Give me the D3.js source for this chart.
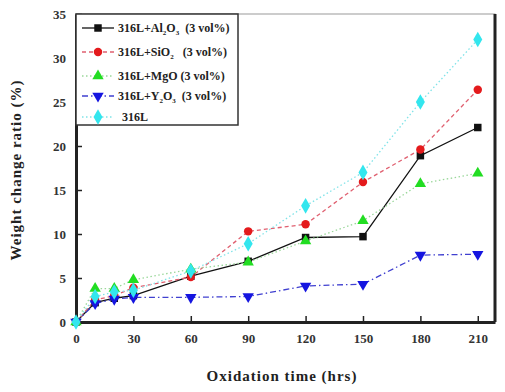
<!DOCTYPE html>
<html>
<head>
<meta charset="utf-8">
<script src="https://cdn.jsdelivr.net/npm/d3@7"></script>
<style>
body { margin: 0; background: #fff; }
svg text { font-family: "Liberation Serif", "Times New Roman", serif; font-weight: bold; }
</style>
</head>
<body>
<div class="canvas"></div>
<script>
// Data
const hours = [0, 10, 20, 30, 60, 90, 120, 150, 180, 210];
const al2o3 = [0, 2.2, 2.7, 3.0, 5.2, 6.9, 9.6, 9.7, 18.9, 22.1];
const sio2 = [0, 2.5, 3.0, 3.9, 5.1, 10.3, 11.1, 15.9, 19.6, 26.4];
const mgo = [0, 3.8, 3.8, 4.8, 6.0, 6.8, 9.2, 11.5, 15.7, 16.9];
const y2o3 = [0, 2.1, 2.6, 2.8, 2.8, 2.9, 4.1, 4.3, 7.6, 7.7];
const plain = [0, 2.9, 3.4, 3.6, 5.8, 8.9, 13.2, 17.0, 25.0, 32.1];
const xTicks = [0, 30, 60, 90, 120, 150, 180, 210];
const yTicks = [0, 5, 10, 15, 20, 25, 30, 35];

const series = [
    {name: ['316L+Al', '2', 'O', '3', '  (3 vol%)'], values: al2o3, color: '#111', dash: null, symbol: d3.symbolSquare, rot: 0},
    {name: ['316L+SiO', '2', '', '', '   (3 vol%)'], values: sio2, color: '#e41a1c', dash: '4,3', symbol: d3.symbolCircle, rot: 0, lineColor: '#e06070'},
    {name: ['316L+MgO', '', '', '', ' (3 vol%)'], values: mgo, color: '#22dd22', dash: '1.5,2.5', symbol: d3.symbolTriangle, rot: 0, lineColor: '#9ad79a'},
    {name: ['316L+Y', '2', 'O', '3', '  (3 vol%)'], values: y2o3, color: '#1515e0', dash: '6,3,1.5,3', symbol: d3.symbolTriangle, rot: 180, lineColor: '#4040d0'},
    {name: ['316L', '', '', '', ''], values: plain, color: '#33e6ee', dash: '1.5,2.5', symbol: d3.symbolDiamond, rot: 0, lineColor: '#7fe3e8'}
];

const width = 505, height = 392;
const margin = {top: 14, right: 10, bottom: 70, left: 76};
const graphWidth = width - margin.left - margin.right;
const graphHeight = height - margin.top - margin.bottom;

const svg = d3.select('.canvas')
    .append('svg')
        .attr('width', width)
        .attr('height', height);

const graph = svg.append('g')
    .attr('transform', `translate(${margin.left}, ${margin.top})`);

const x = d3.scaleLinear().domain([0, 219]).range([0, graphWidth]);
const y = d3.scaleLinear().domain([0, 35]).range([graphHeight, 0]);

// Frame
graph.append('rect')
    .attr('width', graphWidth)
    .attr('height', graphHeight)
    .attr('fill', 'none')
    .attr('stroke', '#999')
    .attr('stroke-width', 1);
graph.append('line')
    .attr('x1', graphWidth).attr('x2', graphWidth)
    .attr('y1', 0).attr('y2', graphHeight)
    .attr('stroke', '#222').attr('stroke-width', 3);

// Axes with inward ticks
const xAxis = graph.append('g')
    .attr('transform', `translate(0, ${graphHeight})`)
    .call(d3.axisBottom(x).tickValues(xTicks).tickSizeInner(-6).tickSizeOuter(0).tickPadding(12));
const yAxis = graph.append('g')
    .call(d3.axisLeft(y).tickValues(yTicks).tickSizeInner(-6).tickSizeOuter(0).tickPadding(10));

[xAxis, yAxis].forEach(a => {
    a.select('.domain').attr('stroke', '#222').attr('stroke-width', 3);
    a.selectAll('.tick line').attr('stroke', '#222').attr('stroke-width', 1.5);
    a.selectAll('.tick text').attr('font-size', 13).attr('fill', '#333');
});

// Lines and markers
const line = d3.line()
    .x((d, i) => x(hours[i]))
    .y(d => y(d));

series.forEach(s => {
    graph.append('path')
        .datum(s.values)
        .attr('d', line)
        .attr('fill', 'none')
        .attr('stroke', s.lineColor || s.color)
        .attr('stroke-width', 1.3)
        .attr('stroke-dasharray', s.dash);
});

series.forEach(s => {
    graph.selectAll(null)
        .data(s.values)
        .enter()
        .append('path')
            .attr('d', d3.symbol().type(s.symbol).size(s.symbol === d3.symbolDiamond ? 70 : 56))
            .attr('transform', (d, i) => `translate(${x(hours[i])}, ${y(d)}) rotate(${s.rot})`)
            .attr('fill', s.color);
});

// Legend
const legend = graph.append('g');
legend.append('rect')
    .attr('x', 0).attr('y', 0)
    .attr('width', 162).attr('height', 111)
    .attr('fill', '#fff')
    .attr('stroke', '#333')
    .attr('stroke-width', 1.5);

const rowY = [14, 38, 62, 82, 103];
series.forEach((s, i) => {
    const row = legend.append('g').attr('transform', `translate(0, ${rowY[i]})`);
    row.append('line')
        .attr('x1', 6).attr('x2', 38)
        .attr('stroke', s.lineColor || s.color)
        .attr('stroke-width', 1.3)
        .attr('stroke-dasharray', s.dash);
    row.append('path')
        .attr('d', d3.symbol().type(s.symbol).size(s.symbol === d3.symbolDiamond ? 70 : 56))
        .attr('transform', `translate(22, 0) rotate(${s.rot})`)
        .attr('fill', s.color);
    const t = row.append('text')
        .attr('x', i === 4 ? 46 : 42)
        .attr('y', 4)
        .attr('font-size', 12)
        .attr('fill', '#222')
        .attr('xml:space', 'preserve');
    t.append('tspan').text(s.name[0]);
    if (s.name[1]) t.append('tspan').attr('dy', 3).attr('font-size', 7).text(s.name[1]);
    if (s.name[2]) t.append('tspan').attr('dy', -3).text(s.name[2]);
    if (s.name[3]) t.append('tspan').attr('dy', 3).attr('font-size', 7).text(s.name[3]);
    if (s.name[4]) t.append('tspan').attr('dy', s.name[3] ? -3 : (s.name[1] ? -3 : 0)).text(s.name[4]);
});

// Axis titles
svg.append('text')
    .attr('x', 282).attr('y', 381)
    .attr('text-anchor', 'middle')
    .attr('font-size', 15)
    .attr('letter-spacing', 1)
    .attr('fill', '#222')
    .text('Oxidation time (hrs)');

svg.append('text')
    .attr('transform', 'translate(21, 170) rotate(-90)')
    .attr('text-anchor', 'middle')
    .attr('font-size', 15)
    .attr('letter-spacing', 1)
    .attr('fill', '#222')
    .text('Weight change ratio (%)');
</script>
</body>
</html>
